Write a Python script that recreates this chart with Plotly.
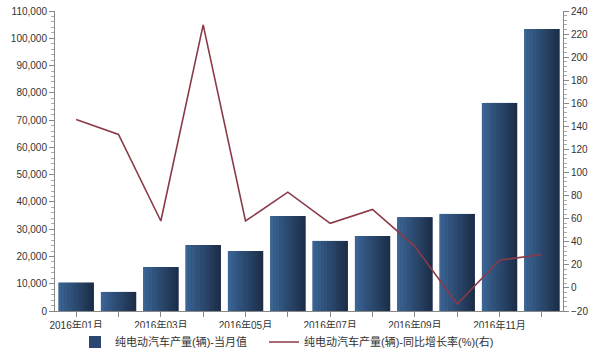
import plotly.graph_objects as go

months = ["2016年01月", "2016年02月", "2016年03月", "2016年04月", "2016年05月", "2016年06月",
          "2016年07月", "2016年08月", "2016年09月", "2016年10月", "2016年11月", "2016年12月"]
tick_labels = ["2016年01月", "", "2016年03月", "", "2016年05月", "",
               "2016年07月", "", "2016年09月", "", "2016年11月", ""]
production = [10400, 7000, 16100, 24200, 22000, 34800, 25700, 27500, 34400, 35600, 76300, 103400]
growth = [146, 133, 58, 228, 58, 83, 56, 68, 36, -14, 24, 29]

bar_name = "纯电动汽车产量(辆)-当月值"
line_name = "纯电动汽车产量(辆)-同比增长率(%)(右)"

fig = go.Figure()

n = 12
total_w = 0.83
left = (58, 100, 148)
right = (28, 46, 72)
sw = total_w / n
fig.add_trace(go.Bar(x=months, y=production, name=bar_name, width=total_w,
                     marker=dict(color="#2b4670", line=dict(width=0)),
                     showlegend=False, hoverinfo="skip"))
for i in range(n):
    t = i / (n - 1)
    c = tuple(int(round(left[k] + (right[k] - left[k]) * t)) for k in range(3))
    fig.add_trace(go.Bar(x=months, y=production, width=sw * 1.05,
                         offset=-total_w / 2 + i * sw,
                         marker=dict(color="rgb(%d,%d,%d)" % c, line=dict(width=0)),
                         showlegend=False, hoverinfo="skip"))
fig.add_trace(go.Bar(x=[None], y=[None], name=bar_name, legend="legend",
                     marker=dict(color="#2b4670", line=dict(width=0)), showlegend=True))

fig.add_trace(go.Scatter(x=months, y=growth, name=line_name, yaxis="y2", mode="lines",
                         legend="legend2", line=dict(color="#8b3a48", width=1.6)))

font_family = "Arial, 'Liberation Sans', 'Noto Sans CJK SC', sans-serif"
axis_common = dict(showline=True, linecolor="#888888", linewidth=1,
                   ticks="outside", ticklen=5, tickcolor="#888888",
                   showgrid=False, automargin=False,
                   tickfont=dict(size=10, color="#333333"))
legend_common = dict(orientation="h", xref="container", yref="container",
                     xanchor="left", y=0.085, yanchor="top",
                     font=dict(size=11, color="#333333"), itemwidth=30)
fig.update_layout(
    width=600, height=358,
    margin=dict(l=55, r=37, t=11, b=47),
    paper_bgcolor="white", plot_bgcolor="white",
    barmode="overlay", bargap=0.17,
    font=dict(family=font_family, size=10, color="#333333"),
    showlegend=True,
    legend=dict(x=0.125, **legend_common),
    legend2=dict(x=0.44, **legend_common),
    xaxis=dict(type="category", tickmode="array", tickvals=months, ticktext=tick_labels,
               **axis_common),
    yaxis=dict(range=[0, 110000], dtick=10000, tickformat=",d", zeroline=False,
               minor=dict(dtick=2000, ticks="outside", ticklen=3, tickcolor="#aaaaaa"),
               **axis_common),
    yaxis2=dict(range=[-20, 240], dtick=20, overlaying="y", side="right", zeroline=False,
                minor=dict(dtick=4, ticks="outside", ticklen=3, tickcolor="#aaaaaa"),
                **axis_common),
)

fig.write_html("out.html", config={"displayModeBar": False},
               post_script="document.body.style.margin='0';")
